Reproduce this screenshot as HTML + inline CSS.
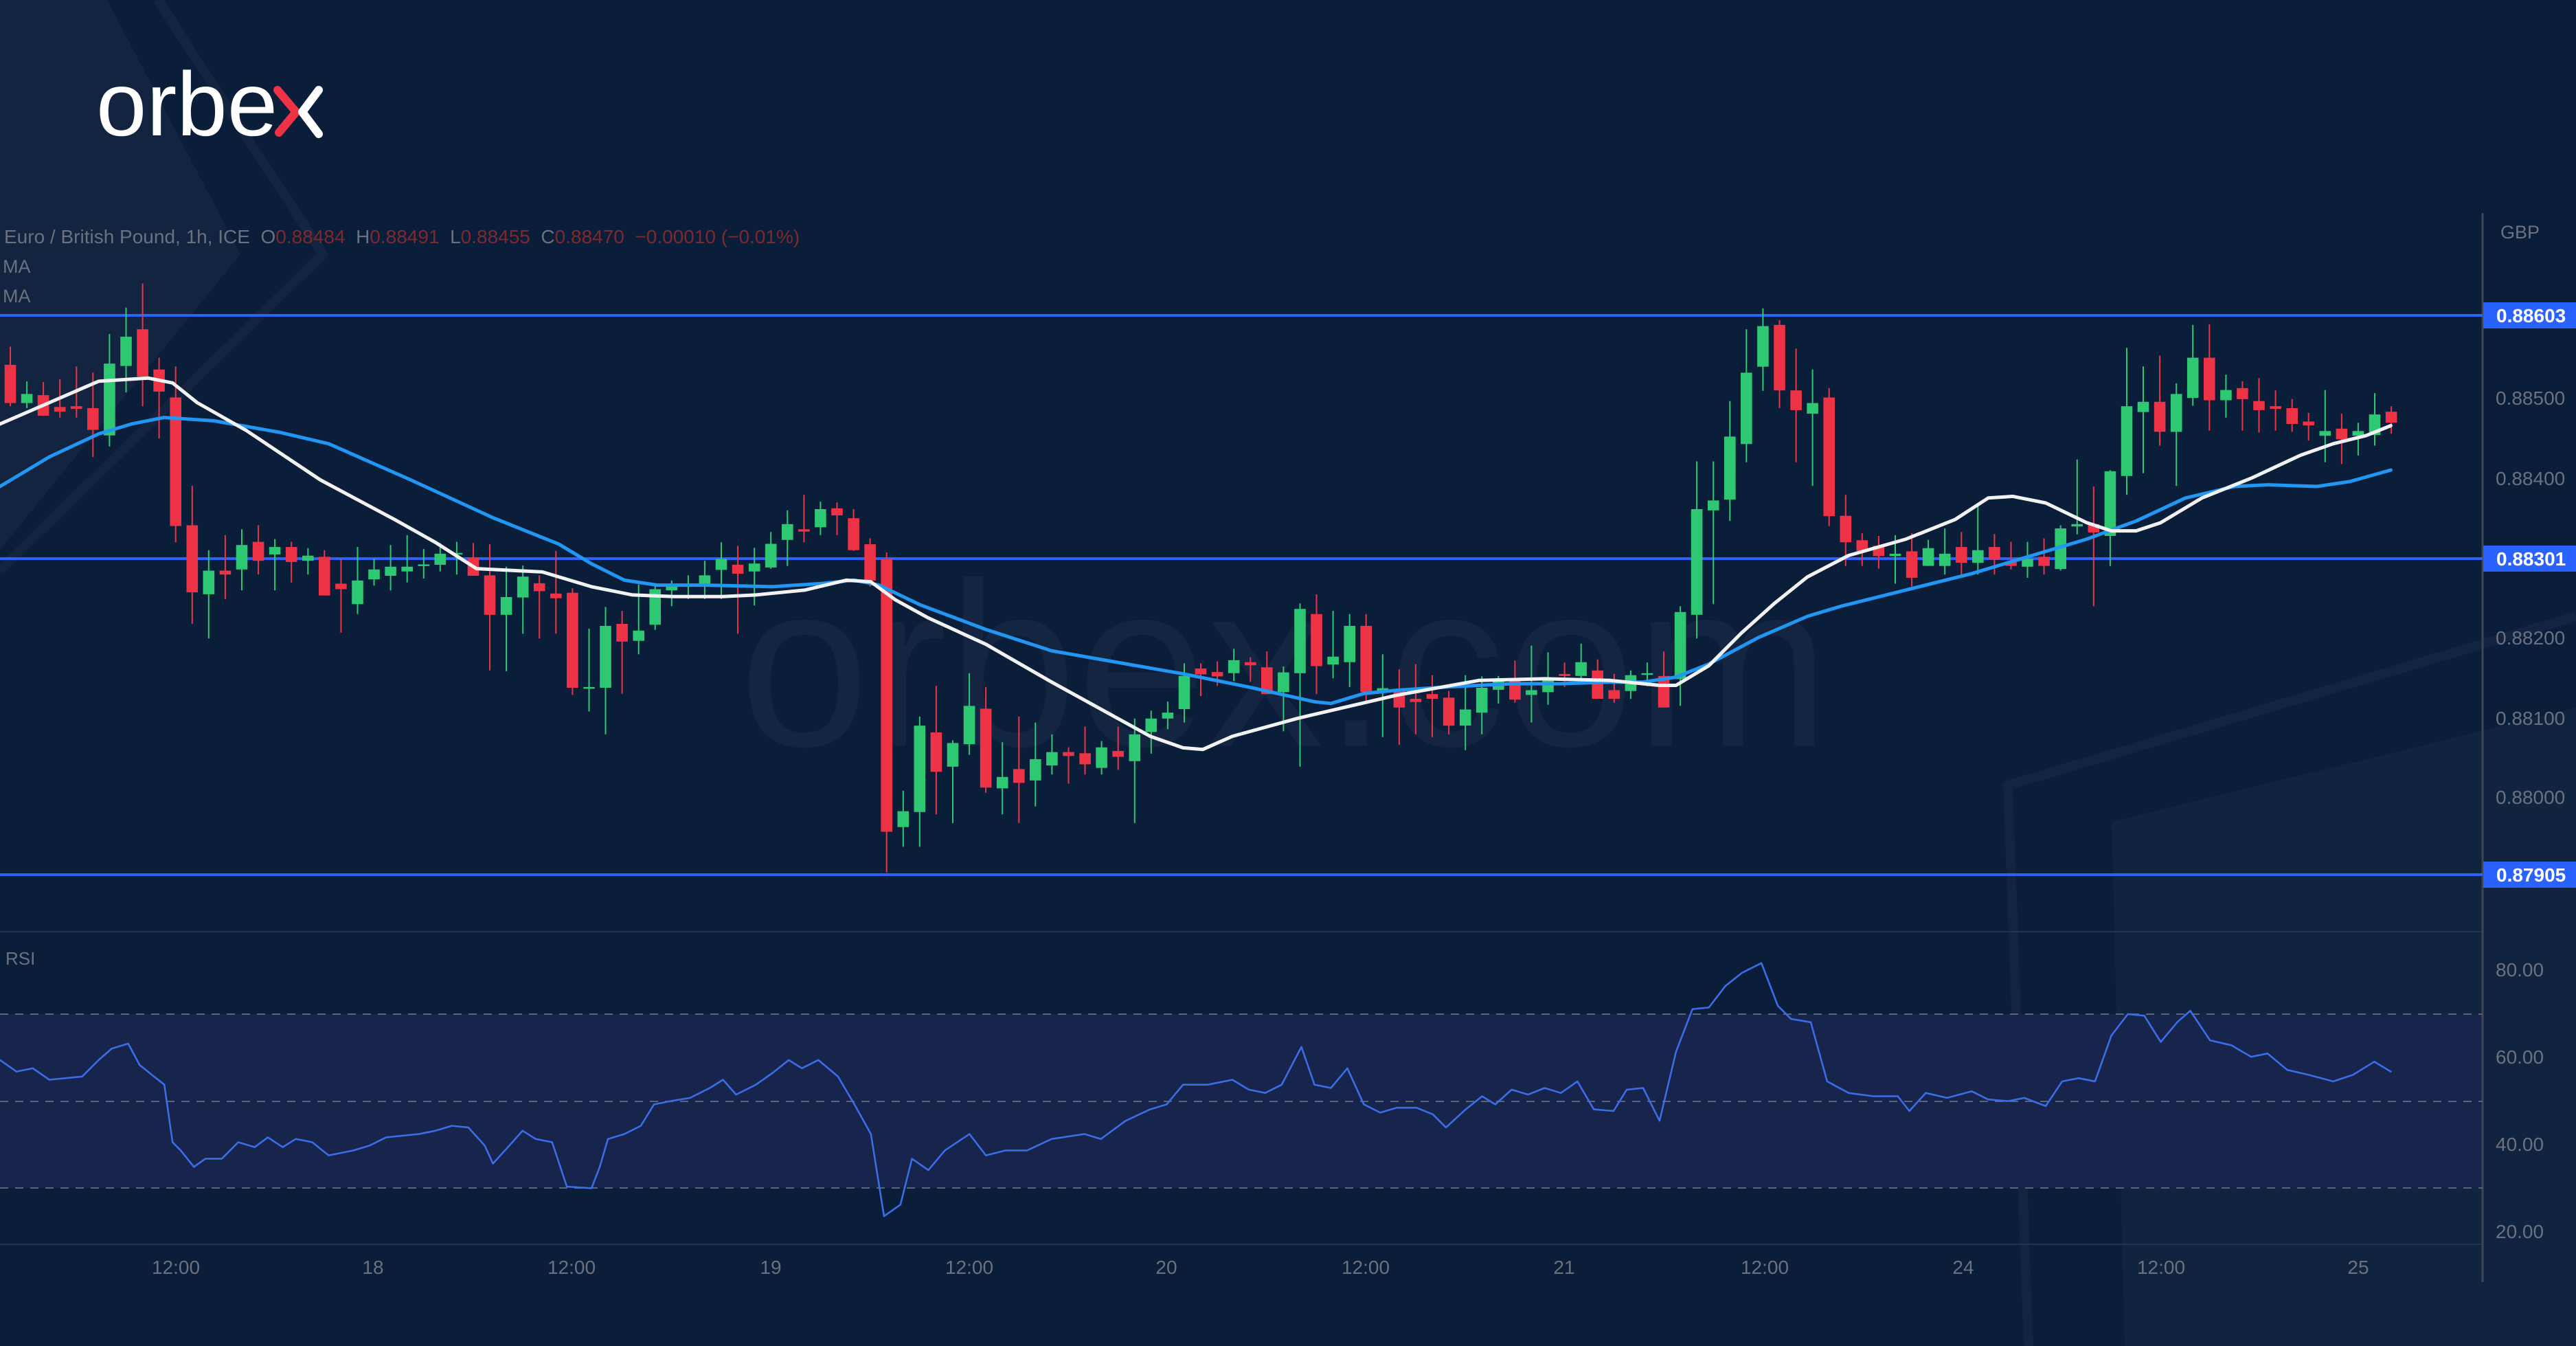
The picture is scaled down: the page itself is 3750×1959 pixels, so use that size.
<!DOCTYPE html>
<html><head><meta charset="utf-8"><style>
html,body{margin:0;padding:0;background:#0a1d39;}
svg{display:block}
text{font-family:"Liberation Sans",sans-serif}
</style></head><body>
<svg id="s" width="3750" height="1959" viewBox="0 0 3750 1959" xmlns="http://www.w3.org/2000/svg">
<rect width="3750" height="1959" fill="#0a1d39"/>
<polygon points="0,0 156,0 350,370 0,800" fill="#ffffff" opacity="0.035"/>
<polyline points="230,0 470,370 0,830" fill="none" stroke="#ffffff" stroke-opacity="0.035" stroke-width="14"/>
<polygon points="3074,1196 3750,1030 3750,1959 3093,1959" fill="#ffffff" opacity="0.03"/>
<polyline points="3750,897 2923,1143 2953,1959" fill="none" stroke="#ffffff" stroke-opacity="0.035" stroke-width="14"/>
<rect x="0" y="1476" width="3614" height="253" fill="#17244c"/>
<text x="1870" y="1085" font-size="340" fill="#ffffff" fill-opacity="0.04" text-anchor="middle">orbex.com</text>
<g id="g"></g>
<text x="140" y="197" font-size="132" fill="#ffffff">orbe</text>
<polyline points="404,131 431,163 406,193" fill="none" stroke="#ef3347" stroke-width="12" stroke-linecap="round" stroke-linejoin="round"/>
<polyline points="464,131 440,163 464,195" fill="none" stroke="#ffffff" stroke-width="12" stroke-linecap="round" stroke-linejoin="round"/>
<text x="6" y="354" font-size="28" fill="#6b717e" xml:space="preserve">Euro / British Pound, 1h, ICE  O<tspan fill="#7d2a2e">0.88484</tspan>  H<tspan fill="#7d2a2e">0.88491</tspan>  L<tspan fill="#7d2a2e">0.88455</tspan>  C<tspan fill="#7d2a2e">0.88470</tspan>  <tspan fill="#7d2a2e">−0.00010 (−0.01%)</tspan></text>
<text x="4" y="397" font-size="27" fill="#6b717e">MA</text>
<text x="4" y="440" font-size="27" fill="#6b717e">MA</text>
<text x="8" y="1404" font-size="26" fill="#6b717e">RSI</text>
<text x="3640" y="347" font-size="27" fill="#6b717e">GBP</text>
</svg>
<script>
var S=2.392,g=document.getElementById('g'),h='';
function ln(x1,y1,x2,y2,c,w,extra){h+='<line x1="'+x1+'" y1="'+y1+'" x2="'+x2+'" y2="'+y2+'" stroke="'+c+'" stroke-width="'+w+'" '+(extra||'')+'/>';}
ln(0,1356,3614,1356,'#23324d',2);ln(0,1811,3614,1811,'#23324d',2);
ln(3614,310,3614,1866,'#3d4657',3);
[1476,1603,1729].forEach(function(y){ln(0,y,3614,y,'#5a6478',2,'stroke-dasharray="12,10"');});
[459,813,1273].forEach(function(y){ln(0,y,3614,y,'#2962ff',4);});
var C=[
['R',200,260,190,300,-1],
['R',228,325,182,333],['G',302,325,270,338],['R',305,357,272,357],['R',335,347,265,362],['R',333,340,232,362],['R',338,393,248,462],['G',225,407,150,435],['G',157,231,83,298],['R',138,258,22,333],['R',240,296,210,415],['R',311,637,232,678],['R',635,805,535,885],['G',750,810,698,922],['R',750,760,660,822],['G',685,747,645,800],['R',677,725,635,760],['G',690,709,670,800],['R',690,728,677,780],['G',712,725,693,760],['R',715,813,698,813],['R',783,797,720,907],['G',775,835,690,860],['G',747,772,720,788],['G',740,763,685,800],['G',740,752,660,780],['G',734,737,695,770],['G',707,735,680,752],['G',705,709,677,760],['R',717,763,680,763],['R',762,862,683,1003],['G',817,862,740,1005],['G',765,818,737,910],['R',782,802,762,922],['R',808,820,700,910],['R',806,1047,795,1065],['G',1045,1049,897,1107],
['G',890,1047,842,1165],['R',885,930,852,1062],['G',902,928,785,962],['G',797,887,783,900],['G',785,800,775,840],['G',784,787,762,822],['G',762,785,725,822],['G',720,748,678,822],['R',735,758,687,910],['G',732,752,692,838],['G',682,742,652,745],['G',632,672,597,738],['R',645,651,558,678],['G',594,640,575,660],['R',592,610,577,660],['R',617,698,594,700],['R',683,775,668,790],['R',720,1412,704,1515],['G',1360,1400,1308,1450],['G',1143,1362,1120,1450],['R',1160,1260,1042,1368],['G',1187,1247,1180,1390],['G',1093,1190,1010,1217],['R',1100,1300,1045,1313],['G',1273,1302,1185,1368],['R',1253,1288,1120,1390],['G',1228,1282,1135,1348],['G',1210,1244,1165,1267],['R',1210,1220,1198,1290],['R',1213,1241,1145,1267],['G',1198,1250,1182,1267],['R',1207,1222,1145,1255],['G',1165,1233,1125,1390],['G',1125,1159,1105,1214],['G',1110,1125,1082,1152],['G',1017,1101,985,1135],['R',998,1013,985,1068],
['R',1007,1018,980,1042],['G',977,1010,948,1030],['R',982,990,970,1032],['R',995,1063,955,1063],['G',1008,1058,993,1157],['G',847,1010,833,1247],['R',860,992,810,1063],['G',968,988,852,1023],['G',890,982,860,1045],['R',890,1058,860,1085],['G',1048,1058,962,1172],['R',1050,1097,1000,1192],['R',1075,1083,987,1165],['R',1063,1075,1015,1172],['R',1072,1143,1055,1165],['G',1102,1143,1015,1205],['G',1047,1110,1018,1165],['G',1025,1052,1017,1087],['R',1027,1077,978,1085],['G',1053,1065,940,1135],['G',1023,1058,957,1090],['R',1012,1017,983,1045],['G',982,1017,935,1025],['R',1003,1075,975,1075],['R',1053,1075,1012,1085],['G',1015,1055,1003,1075],['G',1010,1013,983,1043],['R',1017,1097,955,1097],['G',855,1025,840,1093],['G',594,862,473,922],['G',572,597,473,835],['G',410,570,320,624],['G',248,429,138,475],['G',130,233,85,294],['R',127,293,115,338],['R',293,343,187,475],['G',325,352,240,535],
['R',311,612,287,637],['R',611,678,558,738],['R',673,700,655,738],['R',687,713,662,745],['G',707,713,660,783],['R',701,768,655,790],['G',693,738,672,738],['G',707,738,643,760],['R',690,730,652,760],['G',698,730,578,760],['R',690,722,657,760],['R',728,738,677,747],['G',720,740,677,768],['R',715,738,668,760],['G',643,746,635,750],['G',632,638,468,658],['R',632,653,537,840],['G',498,662,495,738],['G',333,510,185,558],['G',322,348,232,503],['R',322,398,205,433],['G',302,398,275,535],['G',210,312,127,332],['R',210,318,125,395],['G',292,318,253,362],['R',287,315,270,395],['R',320,343,262,400],['R',333,340,293,395],['R',338,378,315,398],['R',372,382,350,420],['G',396,408,292,475],['R',390,417,352,480],['G',396,408,375,458],['G',354,406,300,433],['R',347,375,333,403]
];
function Y(z){return 400+z/1.742;}
var k=-1;
C.forEach(function(c){
  var x=15+k*24.07; k++;
  var col=c[0]=='G'?'#2ec872':'#ef3347';
  var t=Y(c[1]),b=Y(c[2]); if(b-t<2.5){b=t+2.5;}
  ln(x.toFixed(1),Y(c[3]).toFixed(1),x.toFixed(1),Y(c[4]).toFixed(1),col,2);
  h+='<rect x="'+(x-8.3).toFixed(1)+'" y="'+t.toFixed(1)+'" width="16.6" height="'+(b-t).toFixed(1)+'" fill="'+col+'"/>';
});
function pl(pts,c,w){h+='<polyline fill="none" stroke="'+c+'" stroke-width="'+w+'" stroke-linejoin="round" stroke-linecap="round" points="'+pts.map(function(p){return (p[0]*S).toFixed(1)+','+(p[1]*S).toFixed(1)}).join(' ')+'"/>';}
var blue=[[0,296],[30,278],[60,264],[80,258],[100,254],[130,256],[170,263],[200,270],[250,292],[300,315],[340,331],[360,343],[380,353],[400,356],[430,356],[470,357],[500,355],[520,353],[535,356],[560,368],[600,383],[640,396],[680,403],[720,410],[760,418],[800,427],[810,428],[830,422],[850,420],[880,418],[920,416],[950,416],[980,415],[1000,415],[1020,412],[1040,404],[1070,388],[1100,375],[1120,369],[1160,359],[1200,349],[1240,337],[1270,328],[1300,317],[1330,303],[1360,296],[1380,295],[1410,296],[1430,293],[1455,286]];
var white=[[0,258],[30,245],[60,232],[90,230],[105,233],[120,245],[150,262],[195,292],[240,316],[265,330],[290,346],[310,347],[330,348],[360,357],[385,362],[410,363],[440,363],[460,362],[490,359],[515,353],[530,354],[545,365],[565,376],[600,392],[640,415],[680,437],[700,448],[720,455],[732,456],[750,448],[790,437],[820,430],[850,423],[900,414],[940,413],[980,414],[1010,417],[1020,417],[1040,405],[1060,385],[1080,367],[1100,351],[1125,338],[1160,328],[1190,316],[1210,303],[1225,302],[1245,306],[1270,318],[1285,323],[1300,323],[1315,318],[1340,303],[1370,291],[1400,277],[1420,270],[1440,265],[1455,259]];
pl(blue,'#2196f3',5);pl(white,'#f2f2f2',5);
var rsi=[[0,645],[10,652],[20,650],[30,657],[50,655],[60,645],[68,638],[78,635],[85,648],[95,656],[100,660],[105,695],[110,700],[118,710],[125,705],[135,705],[145,695],[155,698],[163,692],[172,698],[180,693],[190,695],[200,703],[215,700],[225,697],[235,692],[255,690],[265,688],[275,685],[285,686],[295,697],[300,708],[310,697],[318,688],[326,693],[336,695],[345,722],[360,723],[365,710],[370,693],[380,690],[390,685],[398,672],[408,670],[420,668],[432,662],[440,657],[448,666],[460,660],[470,653],[480,645],[488,650],[498,645],[510,655],[520,672],[530,690],[538,740],[548,733],[555,705],[565,712],[575,700],[590,690],[600,703],[612,700],[625,700],[640,693],[660,690],[670,693],[685,682],[700,675],[710,672],[720,660],[735,660],[750,657],[760,663],[770,665],[780,660],[792,637],[800,660],[810,662],[820,650],[830,672],[840,677],[850,674],[862,674],[872,678],[880,686],[892,675],[902,667],[910,672],[920,663],[930,666],[940,662],[950,665],[960,658],[970,675],[982,676],[990,663],[1000,662],[1010,682],[1020,640],[1030,614],[1040,613],[1050,600],[1060,592],[1072,586],[1082,612],[1090,620],[1102,622],[1112,658],[1125,665],[1140,667],[1155,667],[1162,676],[1172,665],[1185,668],[1200,664],[1210,669],[1222,670],[1232,668],[1245,673],[1255,658],[1265,656],[1275,658],[1285,630],[1295,617],[1305,618],[1315,634],[1325,622],[1333,615],[1345,633],[1358,636],[1370,643],[1380,641],[1392,651],[1405,654],[1420,658],[1432,654],[1445,646],[1455,652]];
pl(rsi,'#3b6de6',2.6);
function tx(x,y,s,c,fs,anch,w){h+='<text x="'+x+'" y="'+y+'" font-size="'+fs+'" fill="'+c+'" text-anchor="'+(anch||'start')+'"'+(w?' font-weight="bold"':'')+'>'+s+'</text>';}
[['0.88500',579],['0.88400',696],['0.88200',928],['0.88100',1045],['0.88000',1160],['80.00',1411],['60.00',1538],['40.00',1665],['20.00',1792]].forEach(function(a){tx(3633,a[1]+10,a[0],'#6b717e',28);});
[['0.88603',459],['0.88301',813],['0.87905',1273]].forEach(function(a){h+='<rect x="3615" y="'+(a[1]-19)+'" width="135" height="38" fill="#2962ff"/>';tx(3634,a[1]+10,a[0],'#ffffff',28,'start',1);});
[['12:00',256],['18',543],['12:00',832],['19',1122],['12:00',1411],['20',1698],['12:00',1988],['21',2277],['12:00',2569],['24',2858],['12:00',3146],['25',3433]].forEach(function(a){tx(a[1],1854,a[0],'#6b717e',28,'middle');});
g.innerHTML=h;
</script>
</body></html>
